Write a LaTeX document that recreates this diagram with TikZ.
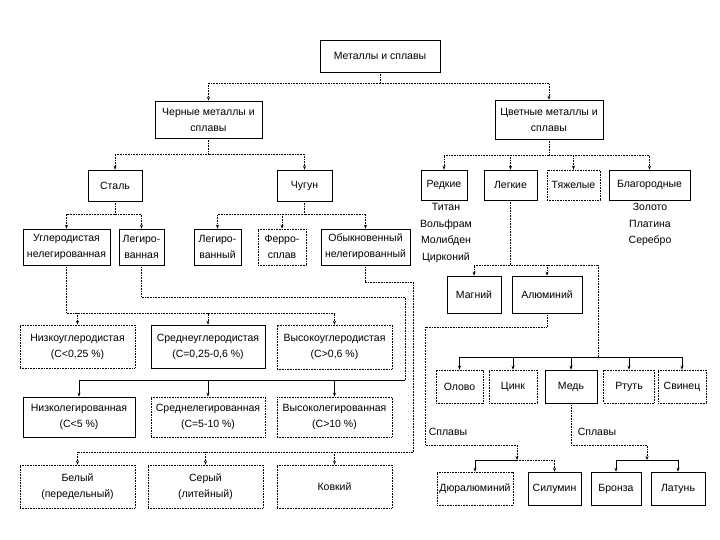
\documentclass[tikz,border=0pt]{standalone}
\usepackage{fontspec}
\setmainfont{Liberation Sans}
\usetikzlibrary{arrows.meta}

\begin{document}
\begin{tikzpicture}[x=1pt, y=-1pt, font=\fontsize{10.5}{16}\selectfont,
    box/.style={draw, line width=0.6pt, align=center, inner sep=1pt},
    dbox/.style={box, dash pattern=on 0.8pt off 0.8pt},
    wh/.style 2 args={minimum width=#1, minimum height=#2},
    link/.style={line width=0.6pt, dash pattern=on 0.8pt off 0.8pt},
    sline/.style={line width=0.6pt},
    tip/.style={-{Stealth[length=4pt,width=3pt]}}]
    \useasboundingbox (0,0) rectangle (720,540);
    % top levels
    \node [box,  wh={120}{32}] (top)   at (380,56)    {Металлы и сплавы};
    \node [box,  wh={107}{37}] (cher)  at (208.5,119.5) {Черные металлы и\\сплавы};
    \node [box,  wh={108}{39}] (cvet)  at (549,119.5) {Цветные металлы и\\сплавы};
    \node [box,  wh={54}{31}]  (stal)  at (115,185.5) {Сталь};
    \node [box,  wh={55}{31}]  (chug)  at (304.5,185.5) {Чугун};
    \node [box,  wh={87}{36}]  (ugl)   at (66.5,247)  {Углеродистая\\нелегированная};
    \node [box,  wh={45}{36}]  (leg)   at (141.5,247) {Легиро-\\ванная};
    \node [box,  wh={47}{36}]  (legi)  at (217.5,247) {Легиро-\\ванный};
    \node [dbox, wh={48}{36}]  (ferro) at (282,247)   {Ферро-\\сплав};
    \node [box,  wh={89}{36}]  (obyk)  at (365.5,247) {Обыкновенный\\нелегированный};
    % non-ferrous
    \node [box,  wh={46}{30}]  (redk)  at (444,185)   {Редкие};
    \node [box,  wh={53}{30}]  (legk)  at (510.5,185) {Легкие};
    \node [dbox, wh={53}{30}]  (tyazh) at (573.5,185) {Тяжелые};
    \node [box,  wh={81}{30}]  (blag)  at (649.5,185) {Благородные};
    \node [align=center, font=\fontsize{10.5}{16.5}\selectfont] (redlist)  at (446,233)   {Титан\\Вольфрам\\Молибден\\Цирконий};
    \node [align=center, font=\fontsize{10.5}{16.5}\selectfont] (blaglist) at (650,224.5) {Золото\\Платина\\Серебро};
    \node [box,  wh={54}{37}]  (mag)   at (474,294.5) {Магний};
    \node [box,  wh={70}{37}]  (alum)  at (547,294.5) {Алюминий};
    \node [dbox, wh={47}{33}]  (olovo) at (459.5,386.5) {Олово};
    \node [dbox, wh={48}{33}]  (cink)  at (513,386.5) {Цинк};
    \node [box,  wh={52}{33}]  (med)   at (571,386.5) {Медь};
    \node [dbox, wh={51}{33}]  (rtut)  at (629,386.5) {Ртуть};
    \node [dbox, wh={48}{33}]  (svin)  at (682,386.5) {Свинец};
    \node [dbox, wh={76}{33}]  (dur)   at (475,488.5) {Дюралюминий};
    \node [box,  wh={53}{33}]  (sil)   at (554.5,488.5) {Силумин};
    \node [box,  wh={50}{33}]  (bron)  at (616,488.5) {Бронза};
    \node [box,  wh={54}{33}]  (lat)   at (678,488.5) {Латунь};
    \node (spl1) at (448,432) {Сплавы};
    \node (spl2) at (597,432) {Сплавы};
    % steel and cast iron grades
    \node [dbox, wh={115}{43}] (nu)  at (77.5,346.5)  {Низкоуглеродистая\\(С<0,25 \%)};
    \node [box,  wh={114}{43}] (su)  at (208,346.5)   {Среднеуглеродистая\\(С=0,25-0,6 \%)};
    \node [dbox, wh={115}{44}] (vu)  at (334.5,347)   {Высокоуглеродистая\\(С>0,6 \%)};
    \node [box,  wh={112}{40}] (nl)  at (79,417)      {Низколегированная\\(С<5 \%)};
    \node [dbox, wh={114}{40}] (sl)  at (208,417)     {Среднелегированная\\(С=5-10 \%)};
    \node [dbox, wh={115}{40}] (vl)  at (334.5,417)   {Высоколегированная\\(С>10 \%)};
    \node [dbox, wh={115}{43}] (bel) at (77.5,486.5)  {Белый\\(передельный)};
    \node [dbox, wh={115}{43}] (ser) at (205.5,486.5) {Серый\\(литейный)};
    \node [dbox, wh={115}{43}] (kov) at (334.5,486.5) {Ковкий};
    % bends
    \coordinate (uc) at (66.5,313);
    \coordinate (g1) at (405,297);
    \coordinate (g2) at (405,380);
    \coordinate (o1) at (413,282);
    \coordinate (o2) at (413,452);
    \coordinate (lg) at (598,265);
    \coordinate (lr) at (598,357);
    \coordinate (a1) at (425,327);
    \coordinate (a2) at (425,445);
    \coordinate (ds) at (517,460);
    \coordinate (m1) at (647,445);
    \coordinate (bs) at (647,460);
    % connectors
    \draw [link, tip] (top.south) -- ++(0,11) -| (cher.north);
    \draw [link, tip] (top.south) -- ++(0,11) -| (cvet.north);
    \foreach \n in {stal, chug}
        \draw [link, tip] (cher.south) -- ++(0,16) -| (\n.north);
    \foreach \n in {ugl, leg}
        \draw [link, tip] (stal.south) -- ++(0,13) -| (\n.north);
    \foreach \n in {legi, ferro, obyk}
        \draw [link, tip] (chug.south) -- ++(0,13) -| (\n.north);
    \foreach \n in {redk, legk, tyazh, blag}
        \draw [link, tip] (cvet.south) -- ++(0,16) -| (\n.north);
    \draw [link] (legk.south) -- (legk.south |- lg);
    \draw [link, tip] (lg) -| (mag.north);
    \draw [link, tip] (lg) -| (alum.north);
    \draw [link] (lg) -- (lr);
    \foreach \n in {olovo, cink, med, rtut, svin}
        \draw [sline, tip] (lr) -| (\n.north);
    \draw [link, tip] (alum.south) |- (a1) -- (a2) -| (ds);
    \draw [sline, tip] (ds) -| (dur.north);
    \draw [link, tip] (ds) -| (sil.north);
    \draw [link, tip] (med.south) |- (m1) -- (bs);
    \draw [sline, tip] (bs) -| (bron.north);
    \draw [sline, tip] (bs) -| (lat.north);
    \draw [link] (ugl.south) -- (uc);
    \foreach \n in {nu, su, vu}
        \draw [link, tip] (uc) -| (\n.north);
    \draw [link] (leg.south) |- (g1) -- (g2);
    \foreach \n in {nl, sl, vl}
        \draw [sline, tip] (g2) -| (\n.north);
    \draw [link] (obyk.south) |- (o1) -- (o2);
    \foreach \n in {bel, ser, kov}
        \draw [link, tip] (o2) -| (\n.north);
\end{tikzpicture}
\end{document}
